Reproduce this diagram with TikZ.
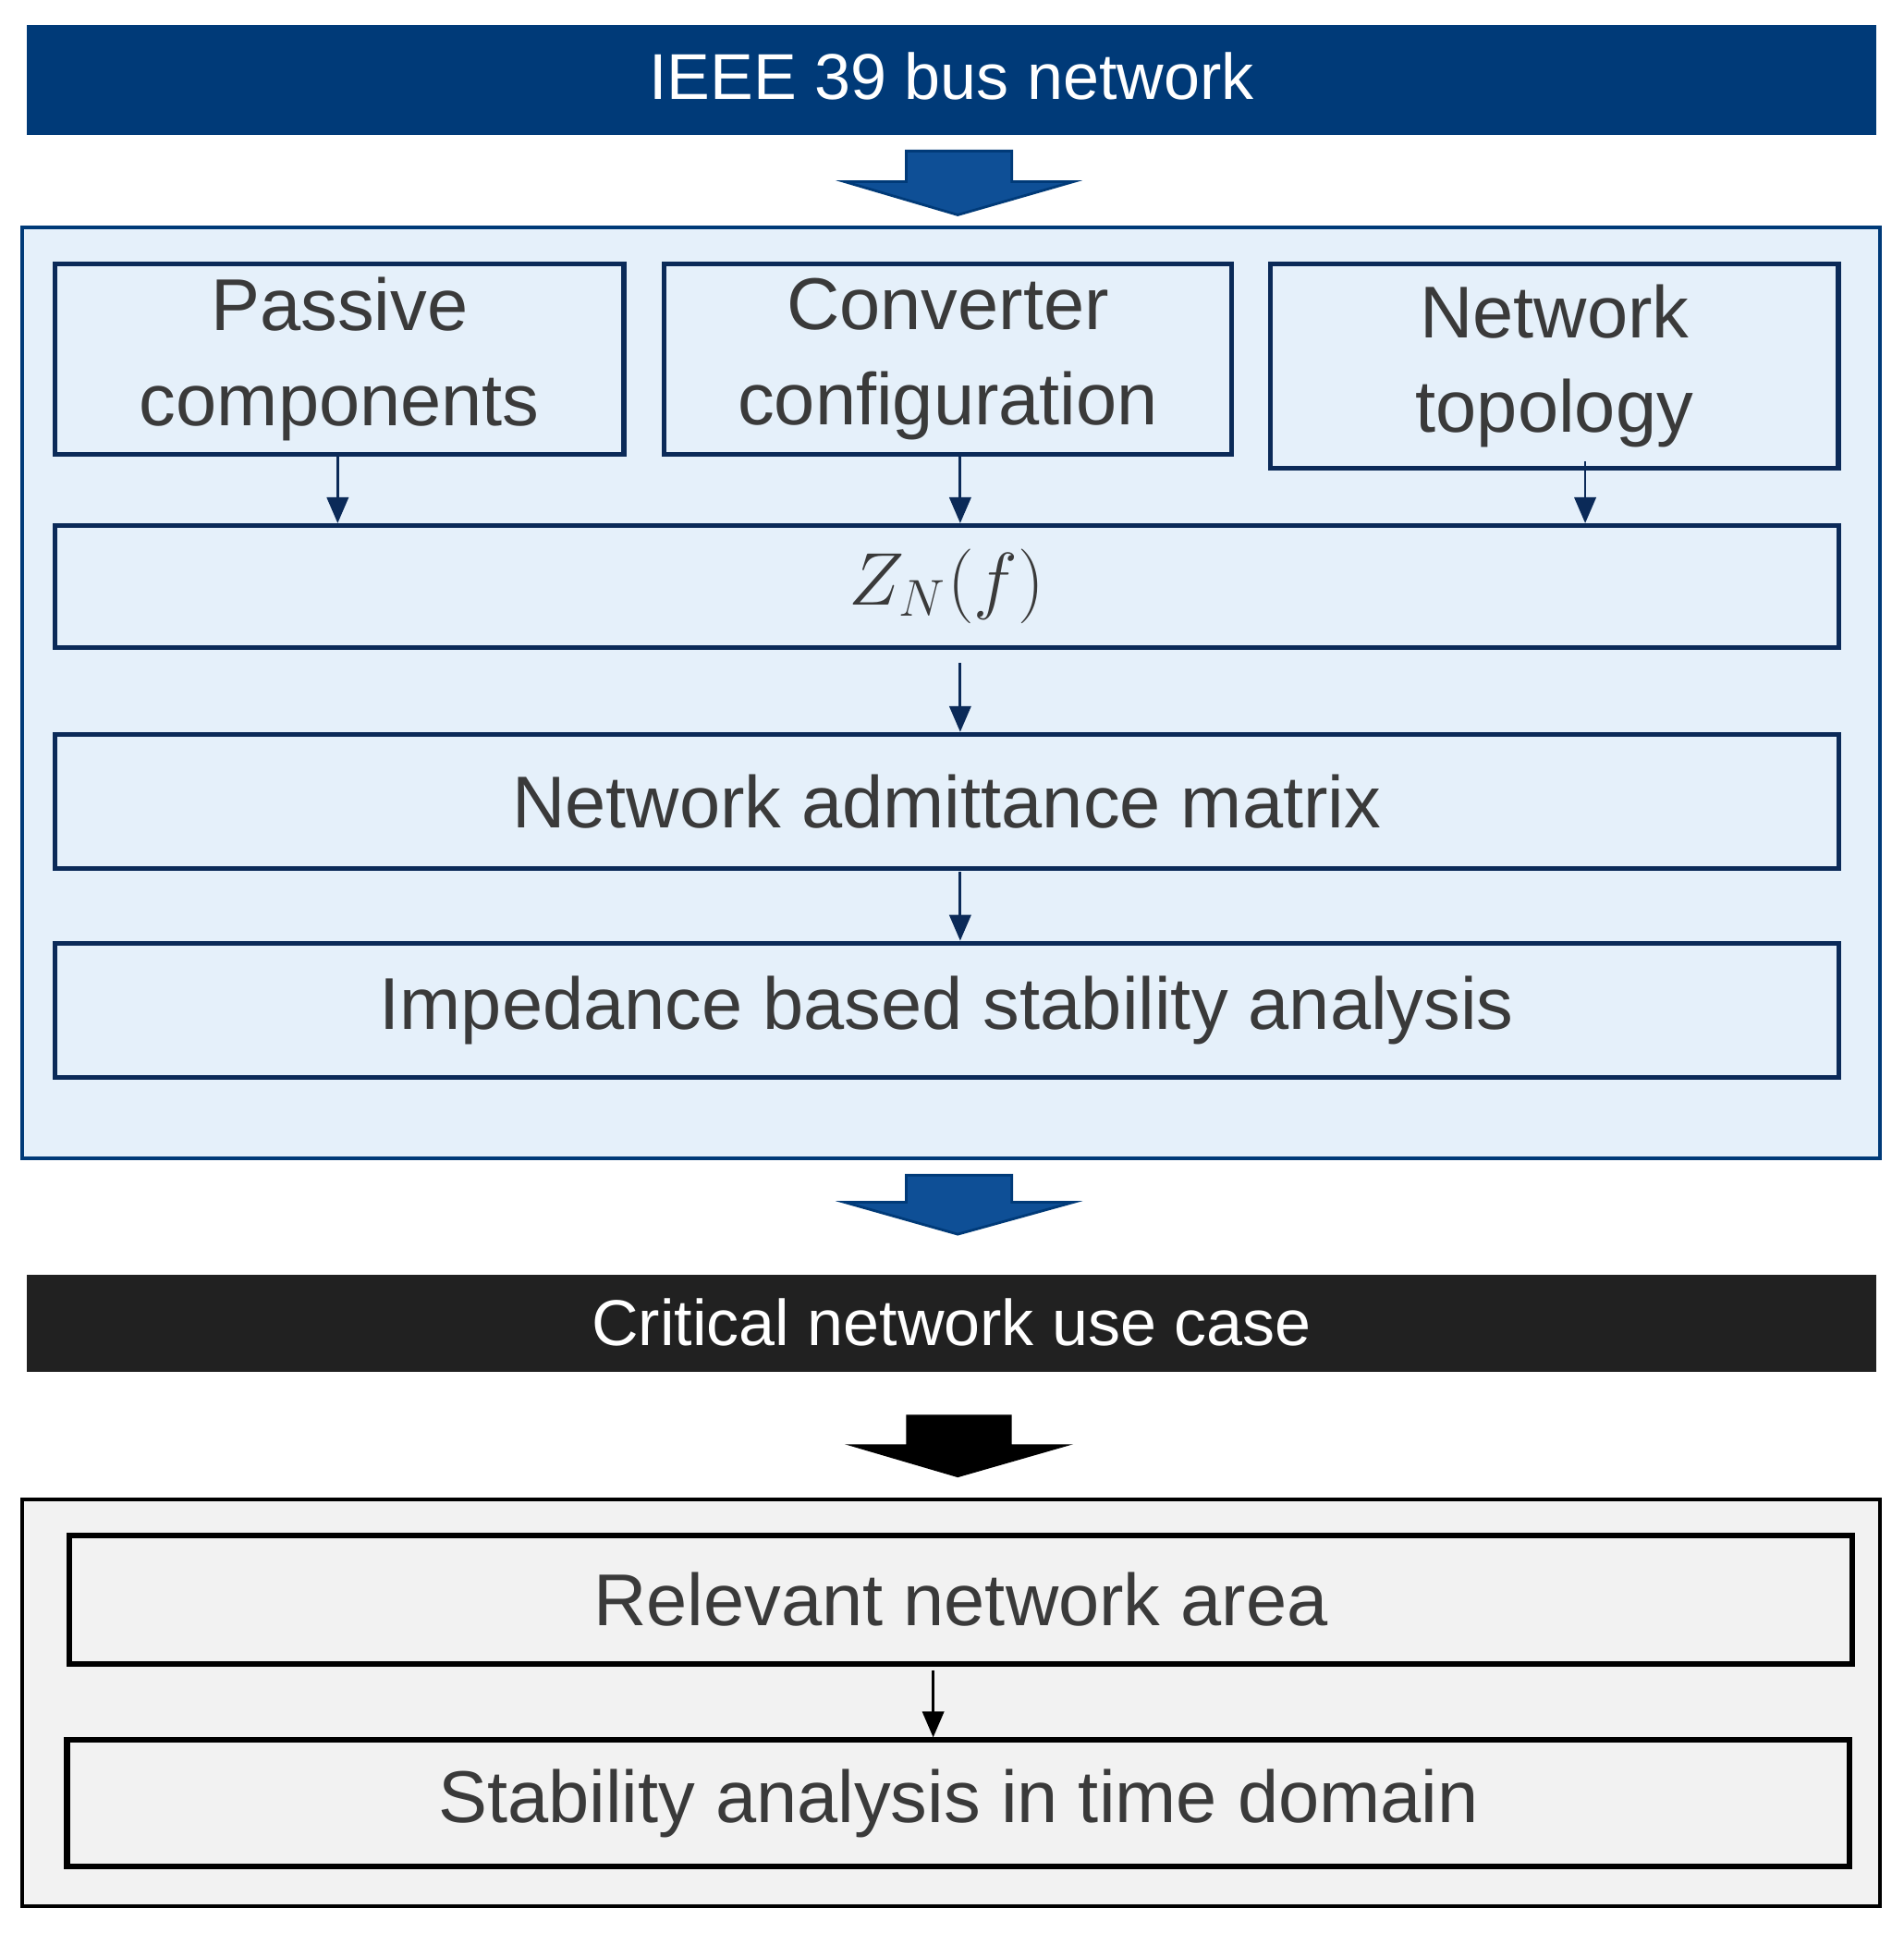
\documentclass[tikz,border=0pt]{standalone}
\usepackage{fontspec}
\setmainfont{Liberation Sans}
\usetikzlibrary{arrows.meta}
\definecolor{navy}{HTML}{003A78}
\definecolor{boxline}{HTML}{0B2A58}
\definecolor{panelblue}{HTML}{E5F0FA}
\definecolor{txt}{HTML}{3A3A3A}
\definecolor{arrblue}{HTML}{0E4F96}
\begin{document}
\begin{tikzpicture}[x=0.01cm,y=-0.01cm,
  banner/.style={inner sep=0pt,font=\fontsize{15}{18}\selectfont,text=white},
  box/.style={draw=boxline,line width=1.1pt,fill=panelblue,text=txt,font=\fontsize{17}{22}\selectfont,align=center,inner sep=0pt},
  gbox/.style={draw=black,line width=1.3pt,fill=black!5,text=txt,font=\fontsize{17}{22}\selectfont,inner sep=0pt},
  con/.style={-{Triangle[length=6pt,width=5pt]},line width=0.6pt,draw=boxline},
  blk/.style={line width=0.6pt}]
\useasboundingbox (0,0) rectangle (1550,1574);
% banner
\fill[navy] (22,20) rectangle (1528,110);
\node[banner] (top) at (775,62) {IEEE 39 bus network};
% block arrow 1
\filldraw[blk,fill=arrblue,draw=navy] (738,123)--(824,123)--(824,148)--(874,148)--(780,175)--(688,148)--(738,148)--cycle;
% panel
\draw[fill=panelblue,draw=navy,line width=0.8pt] (18,185) rectangle (1531,943);
\node[box,minimum width=4.63cm,minimum height=1.55cm] (pc) at (276.5,292.5) {Passive\\components};
\node[box,minimum width=4.62cm,minimum height=1.55cm] (cc) at (772,292.5) {Converter\\configuration};
\node[box,minimum width=4.62cm,minimum height=1.66cm] (nt) at (1266,298) {Network\\topology};
\node[box,minimum width=14.52cm,minimum height=0.99cm] (zn) at (771,477.5) {$Z_N(f)$};
\node[box,minimum width=14.52cm,minimum height=1.09cm] (nam) at (771,652.5) {Network admittance matrix};
\node[box,minimum width=14.52cm,minimum height=1.09cm] (isa) at (771,822.5) {Impedance based stability analysis};
\coordinate (a1) at (275,372);
\coordinate (a2) at (782,372);
\coordinate (a3) at (1291,376);
\coordinate (a4) at (782,540);
\coordinate (a5) at (782,710);
\coordinate (a6) at (760,1360);
\draw[con] (a1) -- (a1 |- zn.north);
\draw[con] (a2) -- (a2 |- zn.north);
\draw[con] (a3) -- (a3 |- zn.north);
\draw[con] (a4) -- (a4 |- nam.north);
\draw[con] (a5) -- (a5 |- isa.north);
% block arrow 2
\filldraw[blk,fill=arrblue,draw=navy] (738,957)--(824,957)--(824,979)--(874,979)--(780,1005)--(688,979)--(738,979)--cycle;
% black banner
\fill[black!87] (22,1038) rectangle (1528,1117);
\node[banner] (crit) at (775,1077) {Critical network use case};
% black block arrow
\fill[black] (738,1152)--(824,1152)--(824,1176)--(874,1176)--(780,1203)--(688,1176)--(738,1176)--cycle;
% grey panel
\draw[fill=black!5,draw=black,line width=0.8pt] (18,1221) rectangle (1531,1552);
\node[gbox,minimum width=14.51cm,minimum height=1.05cm] (rel) at (782.5,1302.5) {Relevant network area};
\node[gbox,minimum width=14.51cm,minimum height=1.03cm] (sta) at (780.5,1468.5) {Stability analysis in time domain};
\draw[-{Triangle[length=6pt,width=5pt]},line width=0.6pt] (a6) -- (a6 |- sta.north);
\end{tikzpicture}
\end{document}
